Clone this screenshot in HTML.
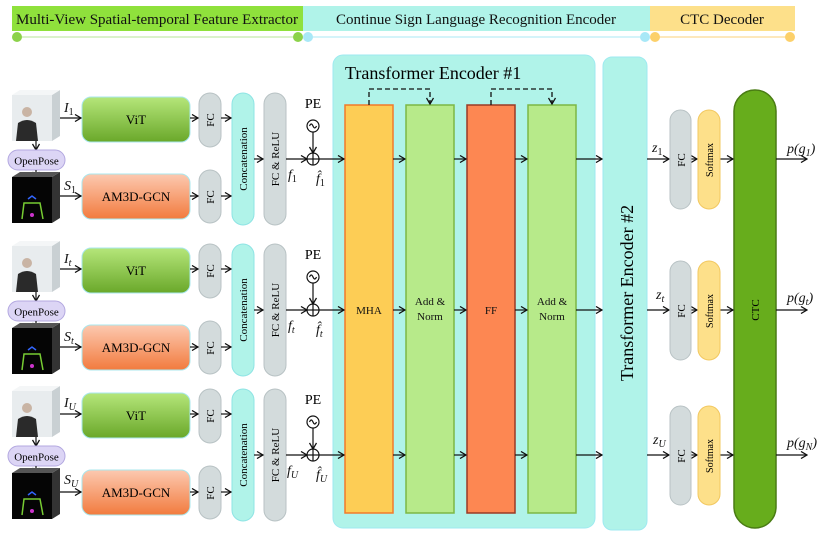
<!DOCTYPE html>
<html><head><meta charset="utf-8"><style>html,body{margin:0;padding:0;background:#fff}svg{display:block}text{font-family:"Liberation Serif",serif}</style></head><body>
<svg width="831" height="535" viewBox="0 0 831 535" xmlns="http://www.w3.org/2000/svg">
<defs>
<marker id="a" markerWidth="8" markerHeight="8" refX="7" refY="4" orient="auto" markerUnits="userSpaceOnUse"><path d="M1,0.5 L7,4 L1,7.5" fill="none" stroke="#111" stroke-width="1.3"/></marker>
<linearGradient id="gv" x1="0" y1="0" x2="0" y2="1"><stop offset="0" stop-color="#b5e67a"/><stop offset="1" stop-color="#6aa82a"/></linearGradient>
<linearGradient id="go" x1="0" y1="0" x2="0" y2="1"><stop offset="0" stop-color="#fcc9b0"/><stop offset="1" stop-color="#f27b3e"/></linearGradient>
<g id="img"><rect x="12" y="0" width="40" height="46" fill="#e8ecee"/><path d="M52,0 L60,-5 L60,41 L52,46Z" fill="#c9d0d3"/><path d="M12,0 L20,-5 L60,-5 L52,0Z" fill="#f4f6f7"/><circle cx="27" cy="17" r="5" fill="#c9b4a4"/><path d="M16,46 L18,28 Q27,22 36,28 L38,46Z" fill="#2a2a2a"/></g>
<g id="sk"><rect x="12" y="0" width="40" height="46" fill="#050505"/><path d="M52,0 L60,-5 L60,41 L52,46Z" fill="#333"/><path d="M12,0 L20,-5 L60,-5 L52,0Z" fill="#555"/><path d="M22,42 L24,26 L40,26 L43,42" fill="none" stroke="#7c3" stroke-width="1.5"/><path d="M28,22 L32,19 L36,22" stroke="#36f" fill="none" stroke-width="1.5"/><circle cx="32" cy="38" r="2" fill="#c3c"/></g>
</defs>
<rect x="12" y="6" width="291" height="25" fill="#8fe13c"/>
<rect x="303" y="6" width="347" height="25" fill="#b0f3e9"/>
<rect x="650" y="6" width="145" height="25" fill="#fde08a"/>
<g font-size="15" fill="#111" text-anchor="middle"><text x="157" y="24">Multi-View Spatial-temporal Feature Extractor</text><text x="476" y="24">Continue Sign Language Recognition Encoder</text><text x="722" y="24">CTC Decoder</text></g>
<line x1="17" y1="37" x2="298" y2="37" stroke="#b7e597" stroke-width="1"/><circle cx="17" cy="37" r="5" fill="#8cd24a"/><circle cx="298" cy="37" r="5" fill="#8cd24a"/>
<line x1="308" y1="37" x2="645" y2="37" stroke="#a8eaf5" stroke-width="1"/><circle cx="308" cy="37" r="5" fill="#a8e8f7"/><circle cx="645" cy="37" r="5" fill="#a8e8f7"/>
<line x1="655" y1="37" x2="790" y2="37" stroke="#fbd27a" stroke-width="1"/><circle cx="655" cy="37" r="5" fill="#fcd06a"/><circle cx="790" cy="37" r="5" fill="#fcd06a"/>
<rect x="333" y="55" width="262" height="473" rx="10" fill="#b0f3e9" stroke="#9eeaf0"/>
<text x="345" y="79" font-size="18">Transformer Encoder #1</text>
<rect x="603" y="57" width="44" height="473" rx="9" fill="#b0f3e9" stroke="#9eeaf0"/>
<text transform="translate(633,293) rotate(-90)" font-size="18" text-anchor="middle">Transformer Encoder #2</text>
<rect x="345" y="105" width="48" height="408" fill="#fdcd55" stroke="#f27a2a" stroke-width="1.5"/>
<rect x="406" y="105" width="48" height="408" fill="#b7ea8a" stroke="#7cb845" stroke-width="1.5"/>
<rect x="467" y="105" width="48" height="408" fill="#fd8752" stroke="#9a3a25" stroke-width="1.5"/>
<rect x="528" y="105" width="48" height="408" fill="#b7ea8a" stroke="#7cb845" stroke-width="1.5"/>
<g font-size="11" text-anchor="middle" fill="#111"><text x="369" y="314">MHA</text><text x="430" y="305">Add &amp;</text><text x="430" y="320">Norm</text><text x="491" y="314">FF</text><text x="552" y="305">Add &amp;</text><text x="552" y="320">Norm</text></g>
<path d="M369,105 V89 H430 V104" fill="none" stroke="#111" stroke-width="1.3" stroke-dasharray="5,3" marker-end="url(#a)"/>
<path d="M491,105 V89 H552 V104" fill="none" stroke="#111" stroke-width="1.3" stroke-dasharray="5,3" marker-end="url(#a)"/>
<rect x="734" y="90" width="42" height="438" rx="21" fill="#67ad1c" stroke="#4a7c14" stroke-width="1.5"/>
<text transform="translate(759,310) rotate(-90)" font-size="11" text-anchor="middle">CTC</text>
<g id="row">
<use href="#img" transform="translate(0,95)"/>
<line x1="36" y1="141" x2="36" y2="150" stroke="#111" stroke-width="1.2" marker-end="url(#a)"/>
<rect x="8" y="150" width="57" height="20" rx="10" fill="#dcd5f5" stroke="#b3a8e0"/>
<text x="36.5" y="164.5" font-size="11" text-anchor="middle">OpenPose</text>
<line x1="36" y1="170" x2="36" y2="178" stroke="#111" stroke-width="1.2" marker-end="url(#a)"/>
<use href="#sk" transform="translate(0,177)"/>
<rect x="82" y="97" width="108" height="45" rx="9" fill="url(#gv)" stroke="#a8e7ee"/>
<text x="136" y="124" font-size="13" text-anchor="middle">ViT</text>
<rect x="82" y="174" width="108" height="45" rx="9" fill="url(#go)" stroke="#a8e7ee"/>
<text x="136" y="201" font-size="13" text-anchor="middle">AM3D-GCN</text>
<rect x="199" y="93" width="22" height="54" rx="11" fill="#d3dbdc" stroke="#b8c2c4"/>
<rect x="199" y="170" width="22" height="53" rx="11" fill="#d3dbdc" stroke="#b8c2c4"/>
<text transform="translate(214,120) rotate(-90)" font-size="11" text-anchor="middle">FC</text>
<text transform="translate(214,197) rotate(-90)" font-size="11" text-anchor="middle">FC</text>
<rect x="232" y="93" width="22" height="132" rx="11" fill="#b0f3e9" stroke="#8ee4e4"/>
<text transform="translate(247,159) rotate(-90)" font-size="11" text-anchor="middle">Concatenation</text>
<rect x="264" y="93" width="22" height="132" rx="11" fill="#d3dbdc" stroke="#b8c2c4"/>
<text transform="translate(279,159) rotate(-90)" font-size="11" text-anchor="middle">FC &amp; ReLU</text>
<g stroke="#111" stroke-width="1.2" fill="none">
<line x1="60" y1="118" x2="81" y2="118" marker-end="url(#a)"/>
<line x1="60" y1="196" x2="81" y2="196" marker-end="url(#a)"/>
<line x1="190" y1="118" x2="198" y2="118" marker-end="url(#a)"/>
<line x1="190" y1="196" x2="198" y2="196" marker-end="url(#a)"/>
<line x1="221" y1="118" x2="231" y2="118" marker-end="url(#a)"/>
<line x1="221" y1="196" x2="231" y2="196" marker-end="url(#a)"/>
<line x1="254" y1="159" x2="263" y2="159" marker-end="url(#a)"/>
<line x1="286" y1="159" x2="307" y2="159" marker-end="url(#a)"/>
<circle cx="313" cy="126" r="6"/><path d="M309.5,126 q1.75,-4 3.5,0 t3.5,0"/>
<line x1="313" y1="132" x2="313" y2="153" marker-end="url(#a)"/>
<circle cx="313" cy="159" r="6"/><line x1="307" y1="159" x2="319" y2="159"/><line x1="313" y1="153" x2="313" y2="165"/>
<line x1="319" y1="159" x2="344" y2="159" marker-end="url(#a)"/>
<line x1="393" y1="159" x2="405" y2="159" marker-end="url(#a)"/>
<line x1="454" y1="159" x2="466" y2="159" marker-end="url(#a)"/>
<line x1="515" y1="159" x2="527" y2="159" marker-end="url(#a)"/>
<line x1="576" y1="159" x2="602" y2="159" marker-end="url(#a)"/>
<line x1="647" y1="159" x2="669" y2="159" marker-end="url(#a)"/>
<line x1="691" y1="159" x2="697" y2="159" marker-end="url(#a)"/>
<line x1="720" y1="159" x2="733" y2="159" marker-end="url(#a)"/>
<line x1="776" y1="159" x2="807" y2="159" marker-end="url(#a)"/>
</g>
<text x="313" y="108" font-size="14" text-anchor="middle">PE</text>
<rect x="670" y="110" width="21" height="99" rx="10.5" fill="#d3dbdc" stroke="#b8c2c4"/>
<text transform="translate(685,160) rotate(-90)" font-size="11" text-anchor="middle">FC</text>
<rect x="698" y="110" width="22" height="99" rx="11" fill="#fde08a" stroke="#f2c860"/>
<text transform="translate(713,160) rotate(-90)" font-size="10" text-anchor="middle">Softmax</text>
</g>
<use href="#row" transform="translate(0,151)"/>
<use href="#row" transform="translate(0,296)"/>
<g font-size="14" font-style="italic" fill="#111">
<text x="64" y="112">I<tspan font-size="10" dy="3" font-style="normal">1</tspan></text>
<text x="64" y="190">S<tspan font-size="10" dy="3" font-style="normal">1</tspan></text>
<text x="288" y="179">f<tspan font-size="10" dy="3" font-style="normal">1</tspan></text>
<text x="316" y="183">f̂<tspan font-size="10" dy="3" font-style="normal">1</tspan></text>
<text x="652" y="152">z<tspan font-size="10" dy="3" font-style="normal">1</tspan></text>
<text x="787" y="153">p(g<tspan font-size="10" dy="3">1</tspan><tspan dy="-3">)</tspan></text>
<text x="64" y="263">I<tspan font-size="10" dy="3">t</tspan></text>
<text x="64" y="341">S<tspan font-size="10" dy="3">t</tspan></text>
<text x="288" y="330">f<tspan font-size="10" dy="3">t</tspan></text>
<text x="316" y="334">f̂<tspan font-size="10" dy="3">t</tspan></text>
<text x="656" y="299">z<tspan font-size="10" dy="3">t</tspan></text>
<text x="787" y="302">p(g<tspan font-size="10" dy="3">t</tspan><tspan dy="-3">)</tspan></text>
<text x="64" y="407">I<tspan font-size="10" dy="3">U</tspan></text>
<text x="64" y="484">S<tspan font-size="10" dy="3">U</tspan></text>
<text x="287" y="475">f<tspan font-size="10" dy="3">U</tspan></text>
<text x="316" y="479">f̂<tspan font-size="10" dy="3">U</tspan></text>
<text x="653" y="444">z<tspan font-size="10" dy="3">U</tspan></text>
<text x="787" y="447">p(g<tspan font-size="10" dy="3">N</tspan><tspan dy="-3">)</tspan></text>
</g>
</svg>
</body></html>
